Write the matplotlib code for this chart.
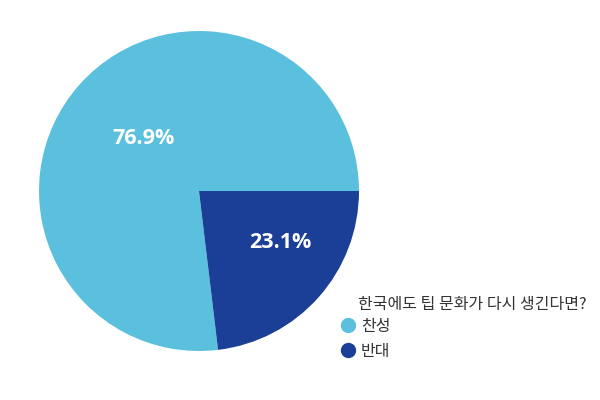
import matplotlib
matplotlib.use("Agg")
import matplotlib.pyplot as plt
from matplotlib.lines import Line2D

plt.rcParams["font.family"] = ["Noto Sans CJK KR", "DejaVu Sans"]

# 응답 비율 (%)
LABELS = ["찬성", "반대"]
VALUES = [76.9, 23.1]
COLORS = ["#5BC0DE", "#1B3F96"]
TITLE = "한국에도 팁 문화가 다시 생긴다면?"

fig = plt.figure(figsize=(6, 4), dpi=100)
fig.patch.set_facecolor("white")

# pie centre ~ (199,191) px, radius ~160 px
ax = fig.add_axes([39 / 600, 49 / 400, 320 / 600, 320 / 400])
wedges, _, pcts = ax.pie(VALUES, colors=COLORS, startangle=0,
                         autopct="%.1f%%", pctdistance=0.55,
                         wedgeprops=dict(linewidth=0),
                         textprops=dict(color="white", fontsize=15.5,
                                        fontweight="bold", family="Open Sans"))
ax.set_xlim(-1, 1); ax.set_ylim(-1, 1)
ax.set_aspect("equal")
ax.axis("off")

# nudge the labels a little like the original
pcts[0].set_position((-0.35, 0.33))
pcts[1].set_position((0.51, -0.32))

fig.text(358 / 600, 1 - 304 / 400, TITLE, ha="left", va="center",
         fontsize=11.5, color="#333333")

handles = [Line2D([], [], marker="o", linestyle="none", markersize=10,
                  markerfacecolor=c, markeredgecolor=c, label=l)
           for l, c in zip(LABELS, COLORS)]
leg = fig.legend(handles=handles, loc="upper left",
                 bbox_to_anchor=(341 / 600, 1 - 318 / 400),
                 frameon=False, fontsize=11.5, handlelength=0.9,
                 handletextpad=0.35, labelspacing=0.5, borderpad=0,
                 borderaxespad=0)
for t in leg.get_texts():
    t.set_color("#333333")

fig.savefig("out.png", dpi=100, facecolor="white")
